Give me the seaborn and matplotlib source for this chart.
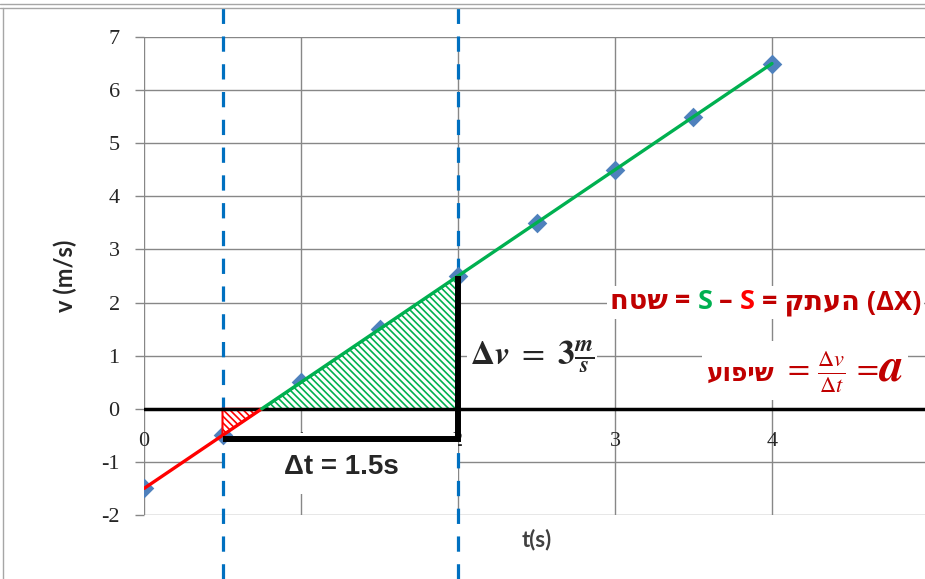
import numpy as np
import matplotlib
matplotlib.use("Agg")
import matplotlib.pyplot as plt
import seaborn as sns
from matplotlib.patches import Polygon, Rectangle
from matplotlib.offsetbox import TextArea, HPacker, AnnotationBbox
from matplotlib.lines import Line2D
from matplotlib import transforms

# velocity samples v(t)
time_s = [0, 0.5, 1, 1.5, 2, 2.5, 3, 3.5, 4]
velocity = [-1.5, -0.5, 0.5, 1.5, 2.5, 3.5, 4.5, 5.5, 6.5]
x_ticks = [0, 1, 2, 3, 4, 5]
y_ticks = [-2, -1, 0, 1, 2, 3, 4, 5, 6, 7]

# marked interval
t_start = 0.5
delta_t = 1.5
delta_v = 3

sns.set_theme(style="white")
plt.rcParams['font.family'] = ['DejaVu Sans']
plt.rcParams['mathtext.fontset'] = 'stix'
plt.rcParams['lines.scale_dashes'] = False
plt.rcParams['hatch.linewidth'] = 1.2
plt.rcParams['axes.unicode_minus'] = False

DARK_RED = '#C00000'
GREEN = '#00B050'
RED = '#FF0000'
BLUE_DASH = '#0070C0'
GRID = '#878787'
HEB = ['Open Sans', 'DejaVu Sans']

fig = plt.figure(figsize=(9.25, 5.79), dpi=100)
ax = fig.add_axes([0.1557, 0.1105, 0.8486, 0.8256])
ax.set_xlim(0, 5)
ax.set_ylim(-2, 7)
ax.set_xticks(x_ticks)
ax.set_yticks(y_ticks)
ax.grid(True, color=GRID, lw=1.0)
ax.set_axisbelow(True)
for s in ax.spines.values():
    s.set_visible(False)
ax.spines['bottom'].set_position(('data', 0))
ax.tick_params(axis='y', left=True, length=6.5, width=1, color=GRID, pad=11,
               labelsize=16, labelcolor='#262626')
ax.tick_params(axis='x', bottom=True, length=0, pad=17,
               labelsize=16, labelcolor='#262626')
for lab in ax.get_xticklabels() + ax.get_yticklabels():
    lab.set_family('Liberation Serif')

# derived points of the interval
t0 = float(np.interp(0, velocity, time_s))          # zero crossing
t_end = t_start + delta_t
v_start = float(np.interp(t_start, time_s, velocity))
v_end = v_start + delta_v

# zero line
ax.axhline(0, color='black', lw=2.5, zorder=4.5)

# trend line: red below zero, green above
sns.lineplot(x=[time_s[0], t0], y=[velocity[0], 0], color=RED, lw=2.4,
             ax=ax, zorder=5)
sns.lineplot(x=[t0, time_s[-1]], y=[0, velocity[-1]], color=GREEN, lw=2.4,
             ax=ax, zorder=5)

# measured points
sns.scatterplot(x=time_s, y=velocity, marker='D', s=100, color='#4F81BD',
                linewidth=0, ax=ax, zorder=3.9)

# hatched areas
ax.add_patch(Polygon([(t_start, 0), (t0, 0), (t_start, v_start)], closed=True,
                     facecolor='white', edgecolor=RED, lw=1.5,
                     hatch='\\\\\\\\\\', zorder=4))
ax.add_patch(Polygon([(t0, 0), (t_end, 0), (t_end, v_end)], closed=True,
                     facecolor='white', edgecolor=GREEN, lw=1.0,
                     hatch='\\\\\\\\\\', zorder=4))

# white label box under the interval
ax.add_patch(Rectangle((t_start, -1.6), delta_t, 1.15, facecolor='white',
                       edgecolor='none', zorder=3))

# dashed interval markers across the whole figure
blend = transforms.blended_transform_factory(ax.transData, fig.transFigure)
for tx in (t_start, t_end):
    ax.plot([tx, tx], [0, 1], transform=blend, color=BLUE_DASH, lw=2.3,
            dashes=(11, 9), clip_on=False, zorder=3.5)

# Δt / Δv bracket
bracket_y = -0.57
ax.plot([t_start, t_end, t_end], [bracket_y, bracket_y, v_end], color='black',
        lw=4.3, solid_joinstyle='miter', solid_capstyle='butt', zorder=6)

ax.text(t_start + delta_t / 2 + 0.01, -1.09, f"Δt = {delta_t}s", fontsize=20,
        fontweight='bold', family='Liberation Sans', ha='center', va='center',
        zorder=7)
ax.text(2.47, 0.98,
        r"$\mathbf{\Delta}\boldsymbol{v}\ =\ \mathbf{%d}\frac{\boldsymbol{m}}{\boldsymbol{s}}$" % delta_v,
        fontsize=24, ha='center', va='center', zorder=7,
        bbox=dict(facecolor='white', edgecolor='none', pad=2))

# area / displacement relation
props = dict(fontsize=19.5, fontweight='bold', family=HEB)
parts1 = [("חטש = ", DARK_RED), ("S", GREEN), (" – ", DARK_RED), ("S", RED),
          (" = קתעה (ΔX)", DARK_RED)]
row1 = HPacker(children=[TextArea(t, textprops=dict(color=c, **props))
                         for t, c in parts1],
               align='baseline', pad=0, sep=0)
ab1 = AnnotationBbox(row1, (3.96, 2.0), xycoords='data', box_alignment=(0.5, 0.5),
                     frameon=True, pad=0.2,
                     bboxprops=dict(facecolor='white', edgecolor='none'), zorder=7)
ax.add_artist(ab1)

# slope / acceleration relation
row2 = HPacker(children=[
    TextArea("עופיש", textprops=dict(color=DARK_RED, fontsize=18,
                                     fontweight='bold', family=HEB)),
    TextArea(r"$\ =\,\frac{\Delta v}{\Delta t}\,=\;$",
             textprops=dict(color=DARK_RED, fontsize=23)),
    TextArea(r"$\boldsymbol{a}$", textprops=dict(color=DARK_RED, fontsize=34)),
], align='baseline', pad=0, sep=0)
ab2 = AnnotationBbox(row2, (4.21, 0.72), xycoords='data', box_alignment=(0.5, 0.5),
                     frameon=True, pad=0.3,
                     bboxprops=dict(facecolor='white', edgecolor='none'), zorder=7)
ax.add_artist(ab2)

# axis titles
ax.set_xlabel("t(s)", fontsize=16, fontweight='bold', family='Lato', color='#404040')
ax.xaxis.set_label_coords(0.5, -0.028)
ax.set_ylabel("v (m/s)", fontsize=17, fontweight='bold', family='Lato', color='#262626')
ax.yaxis.set_label_coords(-0.085, 0.5)

# chart frame
for yy in (1 - 4 / 579, 1 - 8 / 579):
    fig.add_artist(Line2D([0, 1], [yy, yy], color='#A6A6A6', lw=1.0,
                          transform=fig.transFigure))
fig.add_artist(Line2D([3 / 925, 3 / 925], [0, 1 - 8 / 579], color='#A6A6A6', lw=1.0,
                      transform=fig.transFigure))

fig.savefig("out.png", dpi=100)
